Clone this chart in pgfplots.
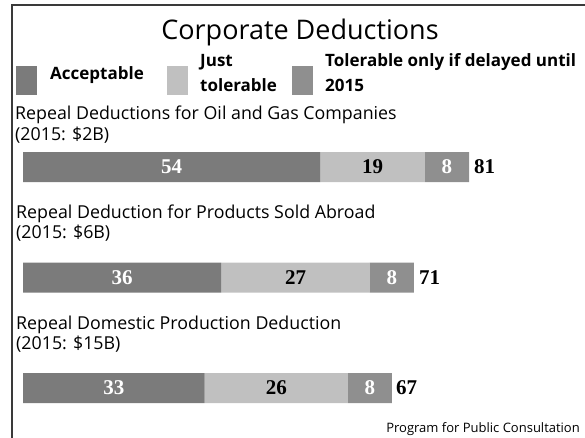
\documentclass[border=0pt]{standalone}
\usepackage{fontspec}
\setmainfont{Open Sans}
\newfontfamily\numfont{Liberation Serif}
\usepackage{pgfplots}
\pgfplotsset{compat=1.18}
\definecolor{cA}{HTML}{7B7B7B}
\definecolor{cB}{HTML}{C0C0C0}
\definecolor{cC}{HTML}{8F8F8F}
\definecolor{framec}{HTML}{3A3A3A}
\tikzset{
  num/.style={inner sep=0, font=\numfont\bfseries\fontsize{21}{24}\selectfont},
  leg/.style={anchor=base west, inner sep=0, font=\bfseries\fontsize{17}{20}\selectfont},
  cat/.style={anchor=base west, inner sep=0, font=\fontsize{17.8}{20}\selectfont},
}
\begin{document}
\begin{tikzpicture}[x=1pt,y=1pt]
\useasboundingbox (0,0) rectangle (585,437);
\draw[framec, line width=2pt] (12,-2) -- (12,432) -- (590,432);
\node[anchor=base, font=\fontsize{27}{30}\selectfont, inner sep=0] at (300,397) {Corporate Deductions};
\fill[cA] (16,342) rectangle (37,371);
\fill[cB] (167,342) rectangle (188,371);
\fill[cC] (292,342) rectangle (313,371);
\node[leg] at (50,357) {Acceptable};
\node[leg] at (200,370) {Just};
\node[leg] at (200,345) {tolerable};
\node[leg] at (325,370) {Tolerable only if delayed until};
\node[leg] at (325,345) {2015};
\node[cat] at (15,317) {Repeal Deductions for Oil and Gas Companies};
\node[cat] at (15,297) {(2015: \$2B)};
\node[cat] at (16,219) {Repeal Deduction for Products Sold Abroad};
\node[cat] at (16,199) {(2015: \$6B)};
\node[cat] at (16,108) {Repeal Domestic Production Deduction};
\node[cat] at (16,88) {(2015: \$15B)};
\node[anchor=base east, inner sep=0, font=\fontsize{13}{15}\selectfont] at (580,5) {Program for Public Consultation};
\begin{axis}[
  at={(23pt,4.8pt)}, anchor=south west,
  scale only axis, width=446pt, height=309.4pt,
  xmin=0, xmax=81, ymin=-0.4, ymax=2.4,
  hide axis, clip=false,
  xbar stacked, bar width=30pt,
]
\addplot[fill=cA, draw=none] coordinates {(33,0) (36,1) (54,2)};
\addplot[fill=cB, draw=none] coordinates {(26,0) (27,1) (19,2)};
\addplot[fill=cC, draw=none] coordinates {(8,0) (8,1) (8,2)};
\coordinate (a2) at (axis cs:27,2);
\coordinate (b2) at (axis cs:63.5,2);
\coordinate (c2) at (axis cs:77,2);
\coordinate (t2) at (axis cs:81,2);
\coordinate (a1) at (axis cs:18,1);
\coordinate (b1) at (axis cs:49.5,1);
\coordinate (c1) at (axis cs:67,1);
\coordinate (t1) at (axis cs:71,1);
\coordinate (a0) at (axis cs:16.5,0);
\coordinate (b0) at (axis cs:46,0);
\coordinate (c0) at (axis cs:63,0);
\coordinate (t0) at (axis cs:67,0);
\end{axis}
\node[num, white] at (a2) {54};
\node[num] at (b2) {19};
\node[num, white] at (c2) {8};
\node[num, anchor=west, xshift=5pt] at (t2) {81};
\node[num, white] at (a1) {36};
\node[num] at (b1) {27};
\node[num, white] at (c1) {8};
\node[num, anchor=west, xshift=5pt] at (t1) {71};
\node[num, white] at (a0) {33};
\node[num] at (b0) {26};
\node[num, white] at (c0) {8};
\node[num, anchor=west, xshift=4pt] at (t0) {67};
\end{tikzpicture}
\end{document}
